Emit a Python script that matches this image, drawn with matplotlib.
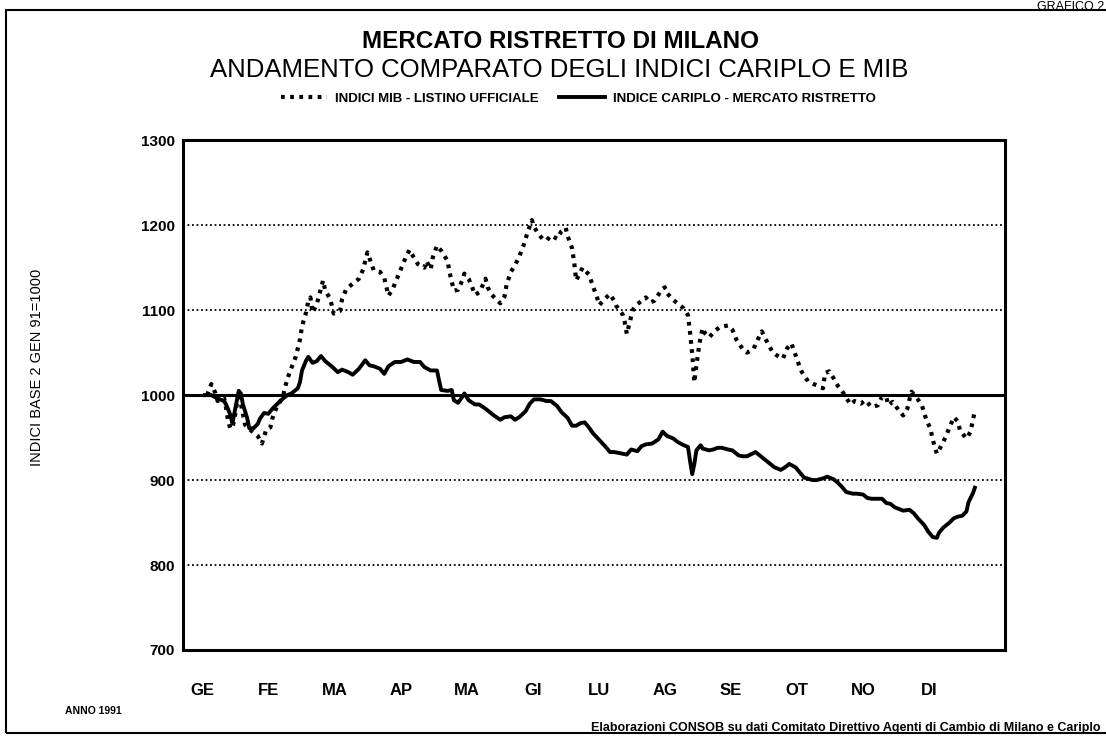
import numpy as np
import matplotlib
matplotlib.use("Agg")
from matplotlib import pyplot as plt
from matplotlib.patches import Rectangle

plt.rcParams['font.family'] = ['Liberation Sans', 'DejaVu Sans']

# giorno dell'anno (1991) e valori
mib_giorni = [1, 3, 5, 6, 9, 10, 11, 12, 13, 14, 16, 19, 22, 25, 27, 29, 31, 32, 34, 37,
              38, 40, 43, 45, 46, 48, 49, 50, 51, 53, 55, 56, 57, 59, 60, 61, 64, 65, 67, 70,
              73, 75, 77, 78, 80, 83, 85, 87, 89, 91, 93, 95, 97, 99, 101, 104, 105, 107, 108, 110,
              112, 115, 116, 118, 120, 122, 123, 125, 127, 128, 130, 132, 133, 134, 136, 138, 140, 142, 143, 145,
              147, 149, 151, 153, 155, 156, 158, 160, 162, 164, 167, 169, 171, 172, 174, 175, 176, 178, 179, 182,
              184, 186, 187, 189, 192, 194, 195, 198, 199, 200, 202, 203, 205, 207, 209, 211, 213, 216, 218, 219,
              222, 224, 227, 229, 230, 231, 232, 233, 234, 235, 236, 237, 239, 242, 244, 248, 250, 252, 255, 257,
              260, 262, 264, 266, 269, 271, 274, 276, 278, 280, 282, 283, 286, 293, 294, 296, 298, 300, 302, 304,
              306, 308, 311, 313, 316, 319, 321, 323, 324, 326, 329, 331, 333, 334, 335, 338, 340, 342, 344, 345,
              346, 347, 349, 351, 353, 355, 357, 358, 361, 363, 364, 365]
mib_valori = [1000, 1013, 1002, 993, 997, 985, 969, 961, 961, 973, 1003, 965, 958, 952, 943, 959, 962, 973, 986, 998,
              1010, 1026, 1045, 1065, 1081, 1098, 1111, 1115, 1097, 1107, 1126, 1135, 1123, 1115, 1107, 1096, 1099, 1113, 1125, 1131,
              1137, 1148, 1168, 1161, 1147, 1145, 1138, 1117, 1125, 1137, 1149, 1161, 1171, 1162, 1154, 1150, 1158, 1148, 1162, 1176,
              1170, 1158, 1144, 1123, 1124, 1135, 1143, 1137, 1125, 1118, 1121, 1131, 1137, 1127, 1118, 1113, 1108, 1116, 1130, 1145,
              1153, 1163, 1176, 1192, 1206, 1198, 1190, 1184, 1182, 1188, 1184, 1193, 1197, 1187, 1173, 1157, 1135, 1145, 1150, 1142,
              1128, 1114, 1106, 1112, 1119, 1111, 1105, 1095, 1086, 1072, 1092, 1101, 1107, 1111, 1115, 1109, 1111, 1122, 1127, 1120,
              1112, 1108, 1102, 1094, 1073, 1049, 1015, 1035, 1053, 1069, 1079, 1073, 1068, 1076, 1080, 1082, 1077, 1065, 1054, 1050,
              1054, 1065, 1075, 1065, 1051, 1047, 1043, 1055, 1061, 1047, 1033, 1027, 1016, 1008, 1026, 1028, 1020, 1011, 1005, 997,
              989, 993, 990, 994, 986, 988, 998, 998, 988, 992, 982, 976, 984, 995, 1004, 995, 987, 971, 960, 948,
              939, 931, 940, 950, 962, 974, 969, 958, 949, 957, 970, 981]

cariplo_giorni = [0, 3, 6, 9, 10, 12, 13, 15, 16, 17, 18, 20, 21, 23, 25, 26, 28, 30, 32, 34,
                  37, 39, 41, 44, 45, 46, 48, 49, 51, 53, 55, 57, 60, 63, 65, 68, 70, 73, 76, 78,
                  80, 83, 85, 87, 90, 93, 96, 99, 102, 104, 107, 110, 111, 112, 115, 117, 118, 120, 122, 123,
                  125, 128, 130, 133, 135, 137, 140, 142, 145, 147, 149, 152, 154, 156, 159, 162, 164, 167, 169, 172,
                  174, 176, 178, 180, 182, 184, 187, 190, 192, 194, 198, 200, 202, 205, 207, 209, 212, 215, 217, 219,
                  222, 224, 227, 229, 230, 231, 232, 233, 235, 236, 239, 241, 243, 245, 248, 250, 253, 255, 257, 261,
                  263, 265, 268, 270, 273, 275, 277, 280, 282, 284, 288, 290, 293, 295, 298, 300, 302, 304, 307, 309,
                  312, 314, 316, 318, 321, 323, 325, 327, 329, 331, 334, 336, 338, 341, 343, 345, 347, 348, 350, 353,
                  355, 357, 359, 361, 362, 364, 365]
cariplo_valori = [1000, 1000, 996, 993, 989, 977, 967, 992, 1005, 1002, 989, 973, 961, 961, 966, 972, 979, 978, 984, 989,
                  996, 1000, 1002, 1008, 1015, 1029, 1041, 1045, 1038, 1040, 1046, 1040, 1034, 1027, 1030, 1027, 1024, 1031, 1041, 1035,
                  1034, 1031, 1025, 1034, 1039, 1039, 1042, 1039, 1039, 1033, 1029, 1029, 1017, 1006, 1005, 1006, 994, 991, 998, 1002,
                  994, 989, 989, 984, 980, 976, 971, 974, 975, 971, 974, 981, 990, 995, 995, 993, 993, 987, 980, 973,
                  964, 964, 967, 968, 962, 955, 947, 939, 933, 933, 931, 930, 936, 934, 940, 942, 943, 948, 957, 952,
                  949, 945, 941, 939, 922, 907, 919, 935, 941, 937, 935, 936, 938, 938, 936, 935, 929, 928, 928, 933,
                  929, 925, 919, 915, 912, 915, 919, 915, 909, 903, 900, 900, 902, 904, 901, 897, 892, 886, 884, 884,
                  883, 879, 878, 878, 878, 873, 872, 868, 866, 864, 865, 861, 855, 847, 839, 833, 832, 838, 844, 850,
                  855, 857, 858, 863, 874, 884, 891]

mesi = ['GE', 'FE', 'MA', 'AP', 'MA', 'GI', 'LU', 'AG', 'SE', 'OT', 'NO', 'DI']
griglia = [800, 900, 1100, 1200]
yticks = [700, 800, 900, 1000, 1100, 1200, 1300]

fig = plt.figure(figsize=(11.06, 7.42), dpi=100)
ax = fig.add_axes([0.1655, 0.124, 0.743, 0.687])

for g in griglia:
    ax.axhline(g, color='black', lw=1.3, ls=(0, (1, 1.5)), zorder=1)
ax.axhline(1000, color='black', lw=2.2, zorder=2)

ax.plot(mib_giorni, mib_valori, color='black', lw=3.0, ls=(0, (0.9, 1.3)),
        label='INDICI MIB - LISTINO UFFICIALE', zorder=3)
ax.plot(cariplo_giorni, cariplo_valori, color='black', lw=2.8, solid_joinstyle='round',
        label='INDICE CARIPLO - MERCATO RISTRETTO', zorder=3)

ax.set_xlim(-10.4, 379.2)
ax.set_ylim(700, 1300)
ax.set_yticks(yticks)
ax.set_yticklabels([str(v) for v in yticks], fontsize=11, fontweight='bold')
ax.set_xticks(np.arange(12) * 31.3 - 1)
ax.set_xticklabels(mesi, fontsize=12, fontweight='bold')
ax.tick_params(axis='both', length=0)
ax.tick_params(axis='x', pad=24)
ax.tick_params(axis='y', pad=6)
for s in ax.spines.values():
    s.set_linewidth(2.2)

fig.text(0.0335, 0.505, 'INDICI BASE 2 GEN 91=1000', rotation=90, ha='center', va='center',
         fontsize=10.5)

ax.legend(loc='center', bbox_to_anchor=(0.523, 0.867), bbox_transform=fig.transFigure,
          ncol=2, frameon=False, handlelength=3.5, columnspacing=1.5,
          handletextpad=0.6, prop={'weight': 'bold', 'size': 9.5})

fig.text(0.507, 0.944, 'MERCATO RISTRETTO DI MILANO', ha='center', va='center',
         fontsize=17.5, fontweight='bold')
fig.text(0.506, 0.905, 'ANDAMENTO COMPARATO DEGLI INDICI CARIPLO E MIB', ha='center', va='center',
         fontsize=18.5)
fig.text(0.084, 0.042, 'ANNO 1991', ha='center', va='center', fontsize=7.5, fontweight='bold')
fig.text(0.995, 0.019, 'Elaborazioni CONSOB su dati Comitato Direttivo Agenti di Cambio di Milano e Cariplo',
         ha='right', va='center', fontsize=9, fontweight='bold')
fig.text(0.998, 0.999, 'GRAFICO 2', ha='right', va='top', fontsize=9)

fig.patches.append(Rectangle((0.005, 0.012), 1.1, 0.974, transform=fig.transFigure,
                             fill=False, lw=1.5, color='black'))

fig.savefig('out.png', dpi=100)
